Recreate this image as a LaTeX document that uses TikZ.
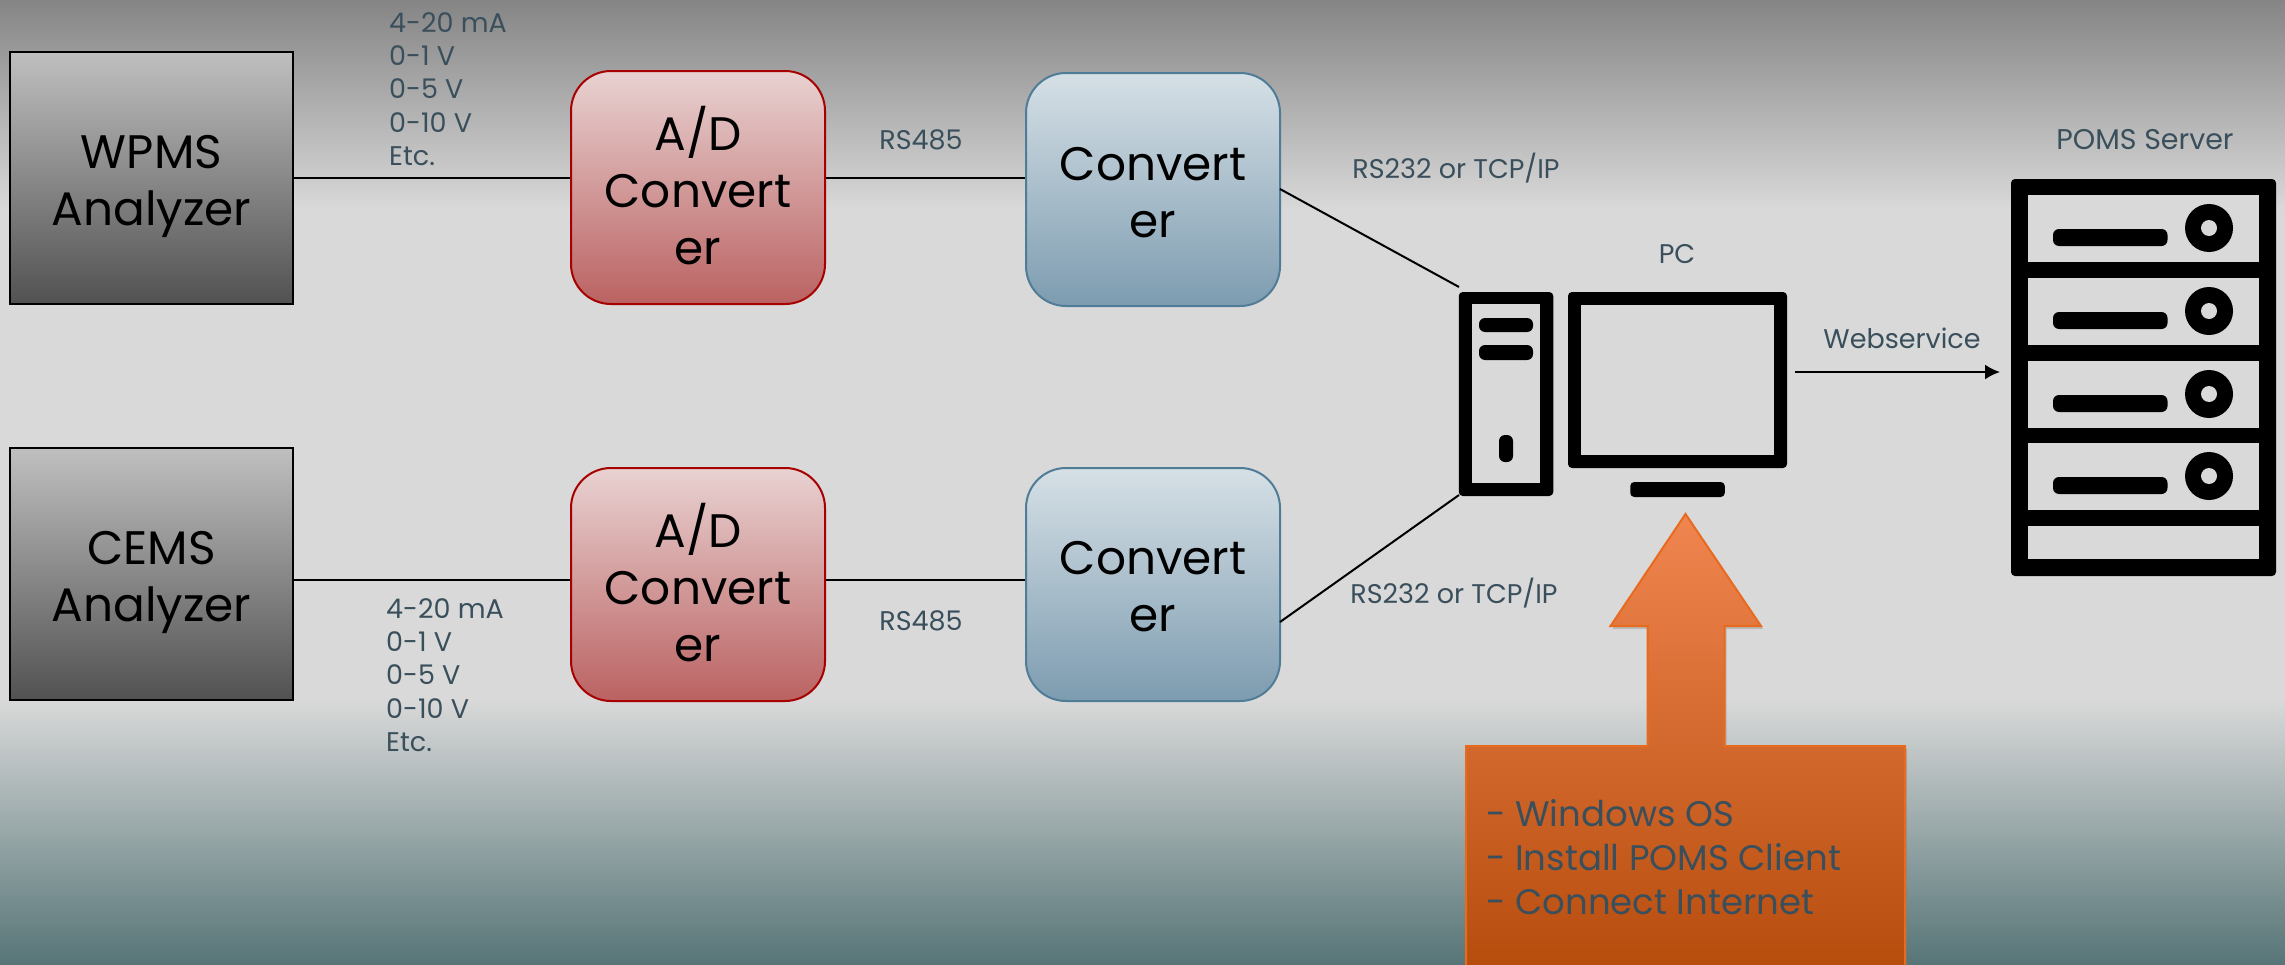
\documentclass[tikz,border=0pt]{standalone}
\usepackage{fontspec}
\setmainfont{Poppins}
\usetikzlibrary{shadows,arrows.meta}
\definecolor{labelink}{HTML}{3A4F5C}
\definecolor{panelgray}{HTML}{D9D9D9}
\definecolor{orangeedge}{HTML}{E86A1E}
\definecolor{orangetop}{HTML}{F18550}
\definecolor{orangebot}{HTML}{B64C0C}
\definecolor{redtop}{HTML}{E9D2D2}
\definecolor{redbot}{HTML}{BB6262}
\definecolor{bluetop}{HTML}{D6E0E6}
\definecolor{bluebot}{HTML}{7D9CB0}
\definecolor{blueedge}{HTML}{4F7C96}
\definecolor{skytop}{HTML}{858585}
\definecolor{floorbot}{HTML}{577577}
\tikzset{
	label/.style={text=labelink,inner sep=0pt,font=\fontsize{27}{33.4}\selectfont},
	bigtext/.style={text=black,align=center,inner sep=0pt,font=\fontsize{47}{57}\selectfont},
	analyzer/.style={draw=black,line width=2,top color=black!25,bottom color=black!68,minimum width=283,minimum height=252},
	adbox/.style={draw=red!65!black,line width=2,rounded corners=40,top color=redtop,bottom color=redbot,minimum width=254,minimum height=233},
	convbox/.style={draw=blueedge,line width=2,rounded corners=40,top color=bluetop,bottom color=bluebot,minimum width=254,minimum height=233},
	iconbox/.style={fill=black,rounded corners=4,inner sep=0pt},
	wire/.style={line width=2,draw=black},
}
\begin{document}
\begin{tikzpicture}[x=1pt,y=-1pt]
	\useasboundingbox (0,0) rectangle (2285,964);
	% background
	\shade[top color=skytop,bottom color=panelgray] (0,0) rectangle (2285,210);
	\fill[panelgray] (0,209) rectangle (2285,700);
	\shade[top color=panelgray,bottom color=floorbot] (0,699) rectangle (2285,964);
	% analyzers and boxes
	\node[analyzer] (wpms) at (151.5,178) {};
	\node[analyzer] (cems) at (151.5,574) {};
	\node[adbox] (adtop) at (698,187.5) {};
	\node[adbox] (adbot) at (698,584.5) {};
	\node[convbox] (convtop) at (1153,189.5) {};
	\node[convbox] (convbot) at (1153,584.5) {};
	\node[bigtext] (wpmstext) at ([yshift=-8pt]wpms.center) {WPMS\\Analyzer};
	\node[bigtext] (cemstext) at ([yshift=-8pt]cems.center) {CEMS\\Analyzer};
	\node[bigtext] (adtoptext) at ([yshift=2pt]adtop.center) {A/D\\Convert\\er};
	\node[bigtext] (adbottext) at ([yshift=2pt]adbot.center) {A/D\\Convert\\er};
	\node[bigtext] (convtoptext) at ([yshift=-3pt]convtop.center) {Convert\\er};
	\node[bigtext] (convbottext) at ([yshift=-2pt]convbot.center) {Convert\\er};
	% pc
	\node[iconbox,minimum width=94.5,minimum height=204] (tower) at (1506,394) {};
	\fill[panelgray] (1472,304) rectangle (1540,483);
	\fill[black,rounded corners=6] (1479,318) rectangle (1533,332);
	\fill[black,rounded corners=6] (1479,345) rectangle (1533,360);
	\fill[black,rounded corners=6] (1499,435) rectangle (1513,462);
	\node[iconbox,minimum width=219,minimum height=176] (screen) at (1677.5,380) {};
	\fill[panelgray] (1581,305) rectangle (1774,455);
	\node[iconbox,minimum width=94.5,minimum height=15] (stand) at (1677.5,489.5) {};
	% server
	\node[iconbox,minimum width=265,minimum height=397] (rack) at (2143.5,377.5) {};
	\fill[panelgray] (2027.5,526) rectangle (2259,559);
	\foreach \y in {195,278,361,443} {
		\fill[panelgray] (2027.5,\y) rectangle (2259,\y+67);
		\fill[black,rounded corners=6] (2053,\y+34) rectangle (2167.5,\y+51);
		\fill[black] (2209,\y+33) circle[radius=24];
		\fill[panelgray] (2209,\y+33) circle[radius=8];
	}
	% connectors
	\coordinate (cemsout) at (293,580);
	\coordinate (convtopout) at (1280,189);
	\coordinate (convbotout) at (1280,622);
	\coordinate (towertop) at (1459,287);
	\coordinate (towerbot) at (1459,495);
	\coordinate (pcout) at (1795,372);
	\coordinate (rackin) at (2000,372);
	\draw[wire] (wpms.east) -- (wpms.east -| adtop.west);
	\draw[wire] (adtop.east |- wpms.east) -- (convtop.west |- wpms.east);
	\draw[wire] (cemsout) -- (cemsout -| adbot.west);
	\draw[wire] (adbot.east |- cemsout) -- (convbot.west |- cemsout);
	\draw[wire] (convtopout) -- (towertop);
	\draw[wire] (convbotout) -- (towerbot);
	\draw[wire,-{Latex[length=15,width=15]}] (pcout) -- (rackin);
	% orange arrow
	\path[draw=orangeedge,line width=2,top color=orangetop,bottom color=orangebot,drop shadow={shadow xshift=2pt,shadow yshift=-3pt,opacity=.35}]
		(1685.5,514) -- (1761,626) -- (1724.5,626) -- (1724.5,746) -- (1905,746) -- (1905,970) -- (1466,970) -- (1466,746) -- (1647.5,746) -- (1647.5,626) -- (1610.5,626) -- cycle;
	\node[label,anchor=west,align=left,font=\fontsize{35.5}{44}\selectfont] (client) at (1486,857) {- Windows OS\\- Install POMS Client\\- Connect Internet};
	% labels
	\node[label,anchor=west,align=left] (sigtop) at (389,89) {4-20 mA\\0-1 V\\0-5 V\\0-10 V\\Etc.};
	\node[label,anchor=west,align=left] (sigbot) at (386,675) {4-20 mA\\0-1 V\\0-5 V\\0-10 V\\Etc.};
	\node[label] (rstop) at (921,140) {RS485};
	\node[label] (rsbot) at (921,621) {RS485};
	\node[label] (tcptop) at (1456,168) {RS232 or TCP/IP};
	\node[label] (tcpbot) at (1454,593) {RS232 or TCP/IP};
	\node[label] (pclabel) at (1677,254) {PC};
	\node[label] (web) at (1902,338) {Webservice};
	\node[label,font=\fontsize{28.5}{33.4}\selectfont] (pomslabel) at (2145,140) {POMS Server};
\end{tikzpicture}
\end{document}
